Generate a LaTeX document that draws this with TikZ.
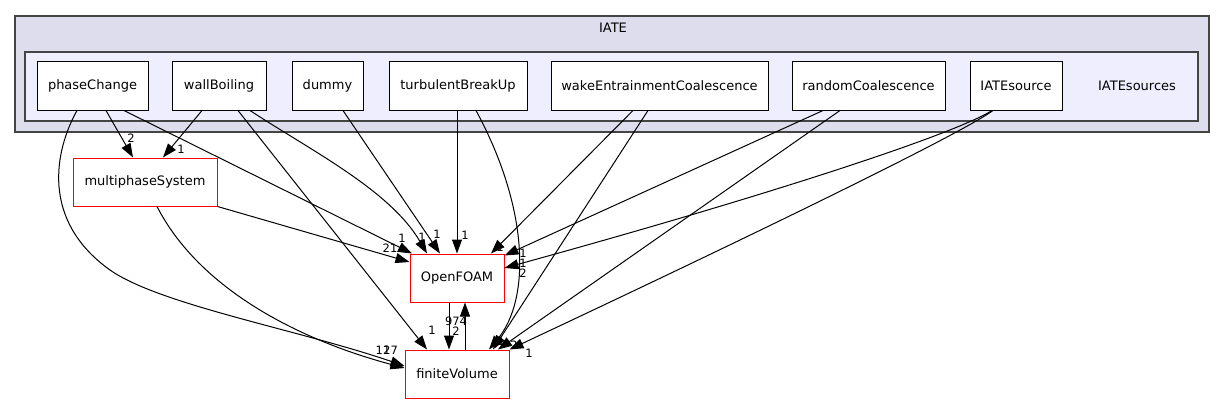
\documentclass[tikz,border=0pt]{standalone}
\usepackage{fontspec}
\setmainfont{DejaVu Sans}
\usetikzlibrary{arrows.meta}

\definecolor{outerfill}{HTML}{DDDDEE}
\definecolor{innerfill}{HTML}{EEEEFF}
\definecolor{clusterline}{HTML}{444444}

\tikzset{
  dirnode/.style={draw=black, fill=white, line width=1pt, minimum height=48pt,
    inner sep=0pt, font=\fontsize{13}{15}\selectfont},
  extnode/.style={dirnode, draw=red},
  cluster/.style={draw=clusterline, line width=1.2pt},
  clabel/.style={inner sep=0pt, font=\fontsize{13}{15}\selectfont},
  dep/.style={-{Triangle[length=14pt,width=10pt]}, line width=1pt},
  lbl/.style={inner sep=0pt, font=\fontsize{11.5}{13}\selectfont},
}

\begin{document}
\begin{tikzpicture}[x=1pt,y=-1pt]
\useasboundingbox (0,0) rectangle (1227,404);

% IATE and IATEsources
\draw[cluster, fill=outerfill] (15,16) rectangle (1209,132);
\node[clabel] (iate) at (613,28) {IATE};
\draw[cluster, fill=innerfill] (25,52) rectangle (1198,121);
\node[clabel] (iatesources) at (1137,86) {IATEsources};

% directories
\node[dirnode, minimum width=111pt] (pc) at (92.5,86) {phaseChange};
\node[dirnode, minimum width=94pt] (wb) at (219,86) {wallBoiling};
\node[dirnode, minimum width=71pt] (dm) at (327.5,86) {dummy};
\node[dirnode, minimum width=138pt] (tb) at (458,86) {turbulentBreakUp};
\node[dirnode, minimum width=217pt] (wk) at (659.5,86) {wakeEntrainmentCoalescence};
\node[dirnode, minimum width=153pt] (rc) at (868.5,86) {randomCoalescence};
\node[dirnode, minimum width=92pt] (is) at (1016,86) {IATEsource};

\node[extnode, minimum width=144pt] (ms) at (145,182) {multiphaseSystem};
\node[extnode, minimum width=94pt] (of) at (457,278) {OpenFOAM};
\node[extnode, minimum width=104pt] (fv) at (457,374) {finiteVolume};

% dependencies
\draw[dep] ([xshift=13.5]pc.south) -- ([xshift=-12]ms.north);
\draw[dep] ([xshift=-17]wb.south) -- ([xshift=18]ms.north);
\draw[dep] ([xshift=31.5]pc.south) -- ([xshift=-45]of.north);
\draw[dep] ([xshift=31]wb.south) .. controls (310,150) and (390,190) .. ([xshift=-30]of.north);
\draw[dep] ([xshift=15.5]dm.south) -- ([xshift=-17]of.north);
\draw[dep] ([xshift=-1]tb.south) -- (of.north);
\draw[dep] ([xshift=18]tb.south) .. controls (530,210) and (530,300) .. ([xshift=32]fv.north);
\draw[dep] ([xshift=19]wb.south) -- ([xshift=-30]fv.north);
\draw[dep] (ms.south east) -- ([yshift=16]of.west);
\draw[dep] ([xshift=12]ms.south) .. controls (200,290) and (300,340) .. ([yshift=6]fv.west);
\draw[dep] ([xshift=-15.5]pc.south) .. controls (55,150) and (40,220) .. (110,270)
  .. controls (160,305) and (300,330) .. ([yshift=8]fv.west);
\draw[dep] ([xshift=-26.5]wk.south) -- ([xshift=34]of.north);
\draw[dep] ([xshift=-11.5]wk.south) -- ([xshift=36]fv.north);
\draw[dep] ([xshift=-45.5]rc.south) -- ([yshift=-2]of.north east);
\draw[dep] ([xshift=-28.5]rc.south) -- ([xshift=41]fv.north);
\draw[dep] ([xshift=-24]is.south) .. controls (955,134) and (770,195) .. ([yshift=10]of.east);
\draw[dep] ([xshift=-23]is.south) .. controls (955,138) and (700,260) .. (fv.north east);
\draw[dep] ([xshift=-8]of.south) -- ([xshift=-8]fv.north);
\draw[dep] ([xshift=8]fv.north) -- ([xshift=8]of.south);

% counts
\node[lbl] (n-pc-ms) at (131,138) {2};
\node[lbl] (n-wb-ms) at (181,149) {1};
\node[lbl] (n-pc-of) at (402,238) {1};
\node[lbl] (n-wb-of) at (422,237) {1};
\node[lbl] (n-dm-of) at (437,234) {1};
\node[lbl] (n-tb-of) at (465,235) {1};
\node[lbl] (n-wk-of) at (500,247) {1};
\node[lbl] (n-rc-of) at (523,253) {1};
\node[lbl] (n-is-of) at (523,263) {1};
\node[lbl] (n-is-of2) at (523,273) {2};
\node[lbl] (n-ms-of) at (390,248) {21};
\node[lbl] (n-wb-fv) at (432,330) {1};
\node[lbl] (n-fv-of) at (456,321) {974};
\node[lbl] (n-of-fv) at (456,331) {2};
\node[lbl] (n-pc-fv) at (383,350) {12};
\node[lbl] (n-ms-fv) at (390.5,350) {17};
\node[lbl] (n-tb-fv) at (501,341) {1};
\node[lbl] (n-rc-fv) at (514,345) {2};
\node[lbl] (n-is-fv) at (529,353) {1};
\end{tikzpicture}
\end{document}
